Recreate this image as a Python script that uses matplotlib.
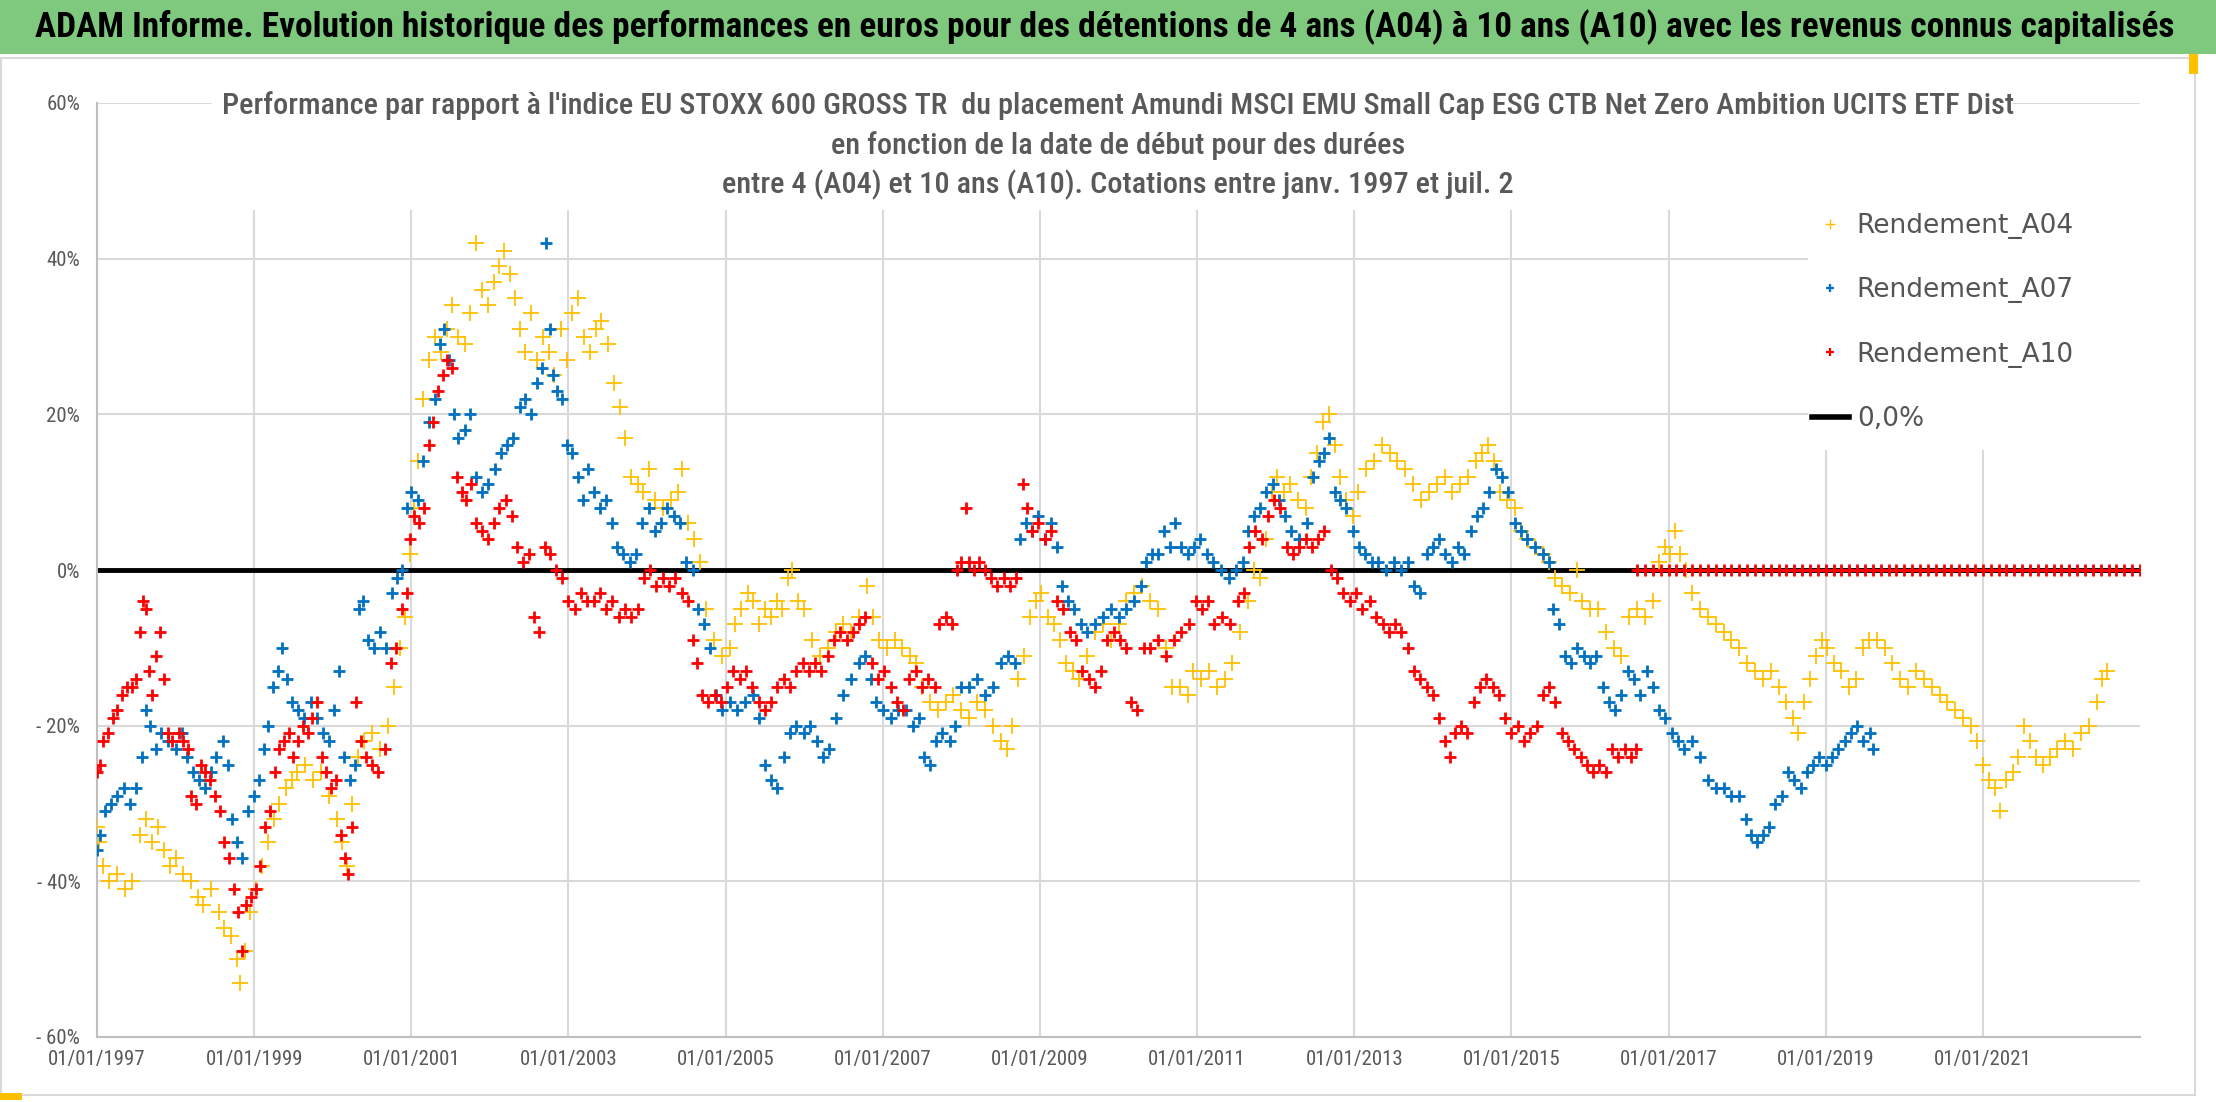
import matplotlib
matplotlib.use("Agg")
import matplotlib.pyplot as plt
from matplotlib import font_manager
from matplotlib.lines import Line2D
from matplotlib.patches import Rectangle
from matplotlib.ticker import FixedLocator, FuncFormatter

# (start year, relative performance in %)
RENDEMENT_A04 = [
    (1997.00, -33), (1997.03, -35), (1997.08, -38), (1997.15, -40), (1997.25, -39), (1997.35, -41),
    (1997.45, -40), (1997.55, -34), (1997.62, -32), (1997.70, -35), (1997.78, -33), (1997.85, -36),
    (1997.93, -38), (1998.00, -37), (1998.10, -39), (1998.20, -40), (1998.28, -42), (1998.35, -43),
    (1998.45, -41), (1998.55, -44), (1998.62, -46), (1998.70, -47), (1998.78, -50), (1998.82, -53),
    (1998.88, -49), (1998.95, -44), (1999.02, -41), (1999.10, -38), (1999.18, -35), (1999.25, -32),
    (1999.32, -30), (1999.40, -28), (1999.48, -27), (1999.55, -26), (1999.65, -25), (1999.75, -27),
    (1999.85, -26), (1999.95, -29), (2000.05, -32), (2000.12, -35), (2000.18, -38), (2000.25, -30),
    (2000.32, -24), (2000.40, -22), (2000.50, -21), (2000.60, -23), (2000.70, -20), (2000.78, -15),
    (2000.85, -10), (2000.92, -6), (2000.98, 2), (2001.03, 8), (2001.08, 14), (2001.15, 22),
    (2001.22, 27), (2001.30, 30), (2001.38, 28), (2001.45, 31), (2001.52, 34), (2001.60, 30),
    (2001.68, 29), (2001.75, 33), (2001.82, 42), (2001.90, 36), (2001.98, 34), (2002.05, 37),
    (2002.12, 39), (2002.18, 41), (2002.25, 38), (2002.32, 35), (2002.38, 31), (2002.45, 28),
    (2002.52, 33), (2002.60, 27), (2002.68, 30), (2002.75, 28), (2002.82, 25), (2002.90, 31),
    (2002.98, 27), (2003.05, 33), (2003.12, 35), (2003.20, 30), (2003.28, 28), (2003.35, 31),
    (2003.42, 32), (2003.50, 29), (2003.58, 24), (2003.65, 21), (2003.72, 17), (2003.80, 12),
    (2003.88, 11), (2003.95, 10), (2004.02, 13), (2004.10, 9), (2004.20, 8), (2004.30, 9),
    (2004.40, 10), (2004.45, 13), (2004.52, 6), (2004.60, 4), (2004.68, 1), (2004.75, -5),
    (2004.85, -9), (2004.95, -11), (2005.05, -10), (2005.12, -7), (2005.20, -5), (2005.28, -3),
    (2005.35, -4), (2005.42, -7), (2005.50, -5), (2005.58, -6), (2005.65, -4), (2005.72, -5),
    (2005.80, -1), (2005.85, 0), (2005.92, -4), (2006.00, -5), (2006.10, -9), (2006.20, -11),
    (2006.30, -10), (2006.40, -8), (2006.50, -7), (2006.60, -8), (2006.70, -6), (2006.80, -2),
    (2006.88, -6), (2006.95, -9), (2007.05, -10), (2007.15, -9), (2007.25, -10), (2007.35, -11),
    (2007.42, -12), (2007.50, -15), (2007.60, -17), (2007.70, -18), (2007.80, -17), (2007.90, -16),
    (2008.00, -18), (2008.10, -19), (2008.20, -17), (2008.30, -18), (2008.40, -20), (2008.50, -22),
    (2008.58, -23), (2008.65, -20), (2008.72, -14), (2008.80, -11), (2008.88, -6), (2008.95, -4),
    (2009.02, -3), (2009.10, -6), (2009.18, -7), (2009.25, -9), (2009.33, -12), (2009.42, -13),
    (2009.50, -14), (2009.60, -11), (2009.70, -8), (2009.80, -7), (2009.90, -9), (2010.00, -7),
    (2010.10, -4), (2010.20, -3), (2010.30, -2), (2010.40, -4), (2010.50, -5), (2010.60, -10),
    (2010.68, -15), (2010.78, -15), (2010.88, -16), (2010.95, -13), (2011.05, -14), (2011.15, -13),
    (2011.25, -15), (2011.35, -14), (2011.45, -12), (2011.55, -8), (2011.65, -4), (2011.72, 0),
    (2011.80, -1), (2011.88, 4), (2011.95, 10), (2012.02, 12), (2012.10, 10), (2012.18, 11),
    (2012.28, 9), (2012.38, 8), (2012.45, 12), (2012.52, 15), (2012.60, 19), (2012.68, 20),
    (2012.75, 16), (2012.82, 12), (2012.90, 9), (2012.98, 7), (2013.05, 10), (2013.15, 13),
    (2013.25, 14), (2013.35, 16), (2013.45, 15), (2013.55, 14), (2013.65, 13), (2013.75, 11),
    (2013.85, 9), (2013.95, 10), (2014.05, 11), (2014.15, 12), (2014.25, 10), (2014.35, 11),
    (2014.45, 12), (2014.55, 14), (2014.62, 15), (2014.70, 16), (2014.78, 14), (2014.85, 10),
    (2014.95, 9), (2015.05, 8), (2015.12, 5), (2015.20, 4), (2015.30, 3), (2015.40, 2),
    (2015.48, 1), (2015.55, -1), (2015.65, -2), (2015.75, -3), (2015.83, 0), (2015.90, -4),
    (2016.00, -5), (2016.10, -5), (2016.20, -8), (2016.30, -10), (2016.40, -11), (2016.50, -6),
    (2016.60, -5), (2016.70, -6), (2016.80, -4), (2016.88, 1), (2016.95, 3), (2017.02, 2),
    (2017.08, 5), (2017.15, 2), (2017.22, 0), (2017.30, -3), (2017.40, -5), (2017.50, -6),
    (2017.60, -7), (2017.70, -8), (2017.80, -9), (2017.90, -10), (2018.00, -12), (2018.10, -13),
    (2018.20, -14), (2018.30, -13), (2018.40, -15), (2018.50, -17), (2018.58, -19), (2018.65, -21),
    (2018.72, -17), (2018.80, -14), (2018.88, -11), (2018.95, -9), (2019.02, -10), (2019.10, -12),
    (2019.20, -13), (2019.30, -15), (2019.38, -14), (2019.48, -10), (2019.55, -9), (2019.65, -9),
    (2019.75, -10), (2019.85, -12), (2019.95, -14), (2020.05, -15), (2020.15, -13), (2020.25, -14),
    (2020.35, -15), (2020.45, -16), (2020.55, -17), (2020.65, -18), (2020.75, -19), (2020.85, -20),
    (2020.92, -22), (2021.00, -25), (2021.08, -27), (2021.15, -28), (2021.22, -31), (2021.30, -27),
    (2021.38, -26), (2021.45, -24), (2021.52, -20), (2021.60, -22), (2021.68, -24), (2021.76, -25),
    (2021.85, -24), (2021.95, -23), (2022.05, -22), (2022.15, -23), (2022.25, -21), (2022.35, -20),
    (2022.45, -17), (2022.52, -14), (2022.58, -13),
]

RENDEMENT_A07 = [
    (1997.00, -36), (1997.04, -34), (1997.10, -31), (1997.18, -30), (1997.26, -29), (1997.34, -28),
    (1997.42, -30), (1997.50, -28), (1997.57, -24), (1997.62, -18), (1997.68, -20), (1997.75, -23),
    (1997.82, -21), (1997.90, -22), (1998.00, -23), (1998.08, -21), (1998.15, -24), (1998.22, -26),
    (1998.30, -27), (1998.38, -28), (1998.45, -26), (1998.52, -24), (1998.60, -22), (1998.67, -25),
    (1998.72, -32), (1998.78, -35), (1998.85, -37), (1998.92, -31), (1999.00, -29), (1999.06, -27),
    (1999.12, -23), (1999.18, -20), (1999.24, -15), (1999.30, -13), (1999.36, -10), (1999.42, -14),
    (1999.48, -17), (1999.56, -18), (1999.64, -19), (1999.72, -17), (1999.80, -19), (1999.88, -21),
    (1999.95, -22), (2000.02, -18), (2000.08, -13), (2000.14, -24), (2000.22, -27), (2000.28, -25),
    (2000.33, -5), (2000.38, -4), (2000.45, -9), (2000.52, -10), (2000.60, -8), (2000.68, -10),
    (2000.75, -3), (2000.82, -1), (2000.88, 0), (2000.94, 8), (2001.00, 10), (2001.08, 9),
    (2001.15, 14), (2001.22, 19), (2001.30, 22), (2001.36, 29), (2001.42, 31), (2001.48, 27),
    (2001.54, 20), (2001.60, 17), (2001.68, 18), (2001.75, 20), (2001.82, 12), (2001.90, 10),
    (2001.98, 11), (2002.06, 13), (2002.14, 15), (2002.22, 16), (2002.30, 17), (2002.38, 21),
    (2002.45, 22), (2002.52, 20), (2002.60, 24), (2002.66, 26), (2002.72, 42), (2002.76, 31),
    (2002.80, 25), (2002.86, 23), (2002.92, 22), (2002.98, 16), (2003.05, 15), (2003.12, 12),
    (2003.18, 9), (2003.25, 13), (2003.32, 10), (2003.40, 8), (2003.48, 9), (2003.55, 6),
    (2003.62, 3), (2003.70, 2), (2003.78, 1), (2003.86, 2), (2003.94, 6), (2004.02, 8),
    (2004.10, 5), (2004.18, 6), (2004.26, 8), (2004.34, 7), (2004.42, 6), (2004.50, 1),
    (2004.58, 0), (2004.65, -5), (2004.72, -7), (2004.80, -10), (2004.88, -16), (2004.95, -18),
    (2005.05, -17), (2005.15, -18), (2005.25, -17), (2005.35, -16), (2005.42, -19), (2005.50, -25),
    (2005.58, -27), (2005.66, -28), (2005.74, -24), (2005.82, -21), (2005.90, -20), (2006.00, -21),
    (2006.08, -20), (2006.16, -22), (2006.24, -24), (2006.32, -23), (2006.40, -19), (2006.50, -16),
    (2006.60, -14), (2006.70, -12), (2006.78, -11), (2006.85, -14), (2006.92, -17), (2007.00, -18),
    (2007.10, -19), (2007.20, -18), (2007.30, -18), (2007.38, -20), (2007.46, -19), (2007.52, -24),
    (2007.60, -25), (2007.68, -22), (2007.76, -21), (2007.85, -22), (2007.92, -20), (2008.00, -15),
    (2008.10, -15), (2008.20, -14), (2008.30, -16), (2008.40, -15), (2008.50, -12), (2008.60, -11),
    (2008.68, -12), (2008.75, 4), (2008.82, 6), (2008.90, 5), (2008.98, 7), (2009.06, 4),
    (2009.14, 6), (2009.22, 3), (2009.28, -2), (2009.36, -4), (2009.44, -5), (2009.52, -7),
    (2009.60, -8), (2009.70, -7), (2009.80, -6), (2009.90, -5), (2010.00, -6), (2010.10, -5),
    (2010.20, -4), (2010.28, -2), (2010.35, 1), (2010.42, 2), (2010.50, 2), (2010.58, 5),
    (2010.65, 3), (2010.72, 6), (2010.80, 3), (2010.88, 2), (2010.96, 3), (2011.04, 4),
    (2011.12, 2), (2011.20, 1), (2011.30, 0), (2011.40, -1), (2011.50, 0), (2011.58, 1),
    (2011.65, 5), (2011.72, 7), (2011.80, 8), (2011.88, 10), (2011.96, 11), (2012.04, 9),
    (2012.12, 7), (2012.20, 5), (2012.30, 4), (2012.40, 6), (2012.48, 12), (2012.55, 14),
    (2012.62, 15), (2012.68, 17), (2012.75, 10), (2012.82, 9), (2012.90, 8), (2012.98, 5),
    (2013.06, 3), (2013.14, 2), (2013.22, 1), (2013.30, 1), (2013.40, 0), (2013.50, 1),
    (2013.60, 0), (2013.68, 1), (2013.76, -2), (2013.84, -3), (2013.92, 2), (2014.00, 3),
    (2014.08, 4), (2014.16, 2), (2014.24, 1), (2014.32, 3), (2014.40, 2), (2014.48, 5),
    (2014.56, 7), (2014.64, 8), (2014.72, 10), (2014.80, 13), (2014.88, 12), (2014.96, 10),
    (2015.04, 6), (2015.12, 5), (2015.20, 4), (2015.30, 3), (2015.40, 2), (2015.48, 1),
    (2015.53, -5), (2015.60, -7), (2015.68, -11), (2015.76, -12), (2015.84, -10), (2015.92, -11),
    (2016.00, -12), (2016.08, -11), (2016.16, -15), (2016.24, -17), (2016.32, -18), (2016.40, -16),
    (2016.48, -13), (2016.56, -14), (2016.64, -16), (2016.72, -13), (2016.80, -15), (2016.88, -18),
    (2016.96, -19), (2017.04, -21), (2017.12, -22), (2017.20, -23), (2017.30, -22), (2017.40, -24),
    (2017.50, -27), (2017.60, -28), (2017.70, -28), (2017.80, -29), (2017.90, -29), (2017.98, -32),
    (2018.05, -34), (2018.12, -35), (2018.20, -34), (2018.28, -33), (2018.36, -30), (2018.44, -29),
    (2018.52, -26), (2018.60, -27), (2018.68, -28), (2018.76, -26), (2018.84, -25), (2018.92, -24),
    (2019.00, -25), (2019.08, -24), (2019.16, -23), (2019.24, -22), (2019.32, -21), (2019.40, -20),
    (2019.48, -22), (2019.56, -21), (2019.60, -23),
]

RENDEMENT_A10 = [
    (1997.00, -26), (1997.04, -25), (1997.08, -22), (1997.14, -21), (1997.20, -19), (1997.26, -18),
    (1997.32, -16), (1997.38, -15), (1997.44, -15), (1997.50, -14), (1997.55, -8), (1997.58, -4),
    (1997.62, -5), (1997.66, -13), (1997.70, -16), (1997.75, -11), (1997.80, -8), (1997.85, -14),
    (1997.90, -21), (1997.96, -22), (1998.04, -21), (1998.10, -22), (1998.16, -23), (1998.20, -29),
    (1998.26, -30), (1998.32, -25), (1998.38, -26), (1998.44, -27), (1998.50, -29), (1998.56, -31),
    (1998.62, -35), (1998.68, -37), (1998.74, -41), (1998.80, -44), (1998.84, -49), (1998.90, -43),
    (1998.96, -42), (1999.02, -41), (1999.08, -38), (1999.14, -33), (1999.20, -31), (1999.26, -26),
    (1999.32, -23), (1999.38, -22), (1999.44, -21), (1999.50, -24), (1999.56, -22), (1999.62, -20),
    (1999.68, -21), (1999.74, -19), (1999.80, -17), (1999.86, -24), (1999.92, -26), (1999.98, -28),
    (2000.04, -27), (2000.10, -34), (2000.16, -37), (2000.20, -39), (2000.25, -33), (2000.30, -17),
    (2000.36, -22), (2000.42, -24), (2000.50, -25), (2000.58, -26), (2000.66, -23), (2000.74, -12),
    (2000.80, -10), (2000.88, -5), (2000.94, -3), (2000.98, 4), (2001.04, 7), (2001.10, 6),
    (2001.16, 8), (2001.22, 16), (2001.28, 19), (2001.34, 23), (2001.40, 25), (2001.46, 27),
    (2001.52, 26), (2001.58, 12), (2001.64, 10), (2001.70, 9), (2001.76, 11), (2001.82, 6),
    (2001.90, 5), (2001.98, 4), (2002.05, 6), (2002.12, 8), (2002.20, 9), (2002.28, 7),
    (2002.35, 3), (2002.42, 1), (2002.50, 2), (2002.56, -6), (2002.62, -8), (2002.70, 3),
    (2002.76, 2), (2002.84, 0), (2002.92, -1), (2003.00, -4), (2003.08, -5), (2003.16, -3),
    (2003.24, -4), (2003.32, -4), (2003.40, -3), (2003.48, -5), (2003.56, -4), (2003.64, -6),
    (2003.72, -5), (2003.80, -6), (2003.88, -5), (2003.96, -1), (2004.04, 0), (2004.12, -2),
    (2004.20, -1), (2004.28, -2), (2004.36, -1), (2004.44, -3), (2004.52, -4), (2004.58, -9),
    (2004.64, -12), (2004.70, -16), (2004.78, -17), (2004.86, -16), (2004.94, -17), (2005.02, -15),
    (2005.10, -13), (2005.18, -14), (2005.26, -13), (2005.34, -15), (2005.42, -17), (2005.50, -18),
    (2005.58, -17), (2005.66, -15), (2005.74, -14), (2005.82, -15), (2005.90, -13), (2005.98, -12),
    (2006.06, -13), (2006.14, -12), (2006.22, -13), (2006.30, -11), (2006.38, -9), (2006.46, -8),
    (2006.54, -9), (2006.62, -8), (2006.70, -7), (2006.78, -6), (2006.86, -12), (2006.94, -14),
    (2007.02, -13), (2007.10, -15), (2007.18, -17), (2007.26, -18), (2007.34, -14), (2007.42, -13),
    (2007.50, -15), (2007.58, -14), (2007.66, -15), (2007.72, -7), (2007.80, -6), (2007.88, -7),
    (2007.94, 0), (2008.00, 1), (2008.06, 8), (2008.10, 1), (2008.16, 0), (2008.22, 1),
    (2008.30, 0), (2008.38, -1), (2008.46, -2), (2008.54, -1), (2008.62, -2), (2008.70, -1),
    (2008.78, 11), (2008.84, 8), (2008.90, 5), (2008.98, 6), (2009.06, 4), (2009.14, 5),
    (2009.22, -4), (2009.30, -5), (2009.38, -8), (2009.46, -9), (2009.54, -13), (2009.62, -14),
    (2009.70, -15), (2009.78, -13), (2009.86, -9), (2009.94, -8), (2010.02, -9), (2010.10, -10),
    (2010.16, -17), (2010.24, -18), (2010.32, -10), (2010.40, -10), (2010.50, -9), (2010.60, -11),
    (2010.70, -9), (2010.80, -8), (2010.90, -7), (2010.98, -4), (2011.06, -5), (2011.14, -4),
    (2011.22, -7), (2011.32, -6), (2011.42, -7), (2011.52, -4), (2011.60, -3), (2011.66, 3),
    (2011.74, 5), (2011.82, 4), (2011.90, 7), (2011.98, 9), (2012.06, 8), (2012.14, 3),
    (2012.22, 2), (2012.30, 3), (2012.38, 4), (2012.46, 3), (2012.54, 4), (2012.62, 5),
    (2012.70, 0), (2012.78, -1), (2012.86, -3), (2012.94, -4), (2013.02, -3), (2013.10, -5),
    (2013.20, -4), (2013.28, -6), (2013.36, -7), (2013.44, -8), (2013.52, -7), (2013.60, -8),
    (2013.68, -10), (2013.76, -13), (2013.84, -14), (2013.92, -15), (2014.00, -16), (2014.08, -19),
    (2014.16, -22), (2014.22, -24), (2014.28, -21), (2014.36, -20), (2014.44, -21), (2014.52, -17),
    (2014.60, -15), (2014.68, -14), (2014.76, -15), (2014.84, -16), (2014.92, -19), (2015.00, -21),
    (2015.08, -20), (2015.16, -22), (2015.24, -21), (2015.32, -20), (2015.40, -16), (2015.48, -15),
    (2015.56, -17), (2015.64, -21), (2015.72, -22), (2015.80, -23), (2015.88, -24), (2015.96, -25),
    (2016.04, -26), (2016.12, -25), (2016.20, -26), (2016.28, -23), (2016.36, -24), (2016.44, -23),
    (2016.52, -24), (2016.58, -23),
]

# A10 has no value after mid-2016: the sheet shows these start dates at 0 %
A10_ZERO_YEARS = [
    2016.6, 2016.7, 2016.8, 2016.9, 2017.0, 2017.1, 2017.2, 2017.3, 2017.4, 2017.5, 2017.6,
    2017.7, 2017.8, 2017.9, 2018.0, 2018.1, 2018.2, 2018.3, 2018.4, 2018.5, 2018.6, 2018.7,
    2018.8, 2018.9, 2019.0, 2019.1, 2019.2, 2019.3, 2019.4, 2019.5, 2019.6, 2019.7, 2019.8,
    2019.9, 2020.0, 2020.1, 2020.2, 2020.3, 2020.4, 2020.5, 2020.6, 2020.7, 2020.8, 2020.9,
    2021.0, 2021.1, 2021.2, 2021.3, 2021.4, 2021.5, 2021.6, 2021.7, 2021.8, 2021.9, 2022.0,
    2022.1, 2022.2, 2022.3, 2022.4, 2022.5, 2022.6, 2022.7, 2022.8, 2022.9, 2023.0,
]

ZERO_LINE_YEARS = [1997.0, 2023.0]
ZERO_LINE_PCT = [0.0, 0.0]

TICK_YEARS = [1997, 1999, 2001, 2003, 2005, 2007, 2009, 2011, 2013, 2015, 2017, 2019, 2021]
TICK_PCT = [-60, -40, -20, 0, 20, 40, 60]

SERIES_NAMES = ["Rendement_A04", "Rendement_A07", "Rendement_A10", "0,0%"]

MAIN_TITLE = ("ADAM Informe. Evolution historique des performances en euros pour des détentions "
              "de 4 ans (A04) à 10 ans (A10) avec les revenus connus capitalisés")
CHART_TITLE = [
    "Performance par rapport à l'indice EU STOXX 600 GROSS TR  du placement Amundi MSCI EMU "
    "Small Cap ESG CTB Net Zero Ambition UCITS ETF Dist",
    "en fonction de la date de début pour des durées",
    "entre 4 (A04) et 10 ans (A10). Cotations entre janv. 1997 et juil. 2",
]

YELLOW = "#FFC000"
BLUE = "#0070C0"
RED = "#FF0000"
GREY_TXT = "#595959"
GRID = "#D9D9D9"
BAND = "#7FC97F"

W, H = 2216, 1102


def pick_font(*names):
    installed = {f.name for f in font_manager.fontManager.ttflist}
    for n in names:
        if n in installed:
            return n
    return "DejaVu Sans"


NARROW = pick_font("Liberation Sans Narrow", "Roboto Condensed", "DejaVu Sans")
WIDE = pick_font("DejaVu Sans")


def fx(px):
    return px / W


def fy(px):
    return 1 - px / H


def pct_label(v, _pos):
    if abs(v) < 1e-9:
        return "0%"
    if v < 0:
        return f"- {abs(v):.0f}%"
    return f"{v:.0f}%"


fig = plt.figure(figsize=(W / 100, H / 100), dpi=100)
fig.patch.set_facecolor("white")

# green banner and chart frame
fig.patches.append(Rectangle((0, fy(54)), 1, 54 / H, transform=fig.transFigure,
                             facecolor=BAND, edgecolor="none", zorder=0))
fig.patches.append(Rectangle((fx(1), fy(1095)), fx(2194), (1095 - 58) / H,
                             transform=fig.transFigure, facecolor="none",
                             edgecolor=GRID, lw=1.5, zorder=0))
fig.text(0.4985, fy(27), MAIN_TITLE, ha="center", va="center", fontsize=25.5,
         fontweight="bold", family=NARROW, color="black")

ax = fig.add_axes([fx(97), fy(1037), fx(2140 - 97), (1037 - 103) / H])
ax.set_xlim(1997, 2023)
ax.set_ylim(-60, 60)
ax.xaxis.set_major_locator(FixedLocator(TICK_YEARS))
ax.yaxis.set_major_locator(FixedLocator(TICK_PCT))
ax.xaxis.set_major_formatter(FuncFormatter(lambda v, _p: f"01/01/{int(round(v))}"))
ax.yaxis.set_major_formatter(FuncFormatter(pct_label))
ax.grid(True, color=GRID, lw=1.5)
ax.set_axisbelow(True)
for side in ["top", "right"]:
    ax.spines[side].set_visible(False)
for side in ["left", "bottom"]:
    ax.spines[side].set_color("#BFBFBF")
    ax.spines[side].set_linewidth(1.5)
ax.tick_params(length=0, colors=GREY_TXT)
ax.tick_params(axis="x", labelsize=15, pad=9)
ax.tick_params(axis="y", labelsize=15, pad=12)
for lab in ax.get_xticklabels() + ax.get_yticklabels():
    lab.set_family(NARROW)

ax.plot(ZERO_LINE_YEARS, ZERO_LINE_PCT, color="black", lw=3.5, zorder=2,
        solid_capstyle="round")

a04_x, a04_y = zip(*RENDEMENT_A04)
a07_x, a07_y = zip(*RENDEMENT_A07)
a10_x, a10_y = zip(*RENDEMENT_A10)
ax.plot(a04_x, a04_y, ls="none", marker="+", ms=11, mew=1.3, color=YELLOW, zorder=3)
ax.plot(a07_x, a07_y, ls="none", marker="+", ms=9, mew=2.0, color=BLUE, zorder=4)
ax.plot(a10_x, a10_y, ls="none", marker="+", ms=9, mew=2.0, color=RED, zorder=5)
ax.plot(A10_ZERO_YEARS, [0] * len(A10_ZERO_YEARS), ls="none", marker="+", ms=9,
        mew=2.0, color=RED, zorder=5)

# chart title on white block over the grid
fig.patches.append(Rectangle((fx(212), fy(210)), fx(2012 - 212), (210 - 86) / H,
                             transform=fig.transFigure, facecolor="white",
                             edgecolor="none", zorder=1))
for i, line in enumerate(CHART_TITLE):
    fig.text(fx(1118), fy(106 + 39.5 * i), line, ha="center", va="center",
             fontsize=21.8, fontweight="medium", family=NARROW, color=GREY_TXT)

# legend block
fig.patches.append(Rectangle((fx(1808), fy(450)), fx(2140 - 1808), (450 - 190) / H,
                             transform=fig.transFigure, facecolor="white",
                             edgecolor="none", zorder=1))
handles = [
    Line2D([], [], ls="none", marker="+", ms=7, mew=1.0, color=YELLOW),
    Line2D([], [], ls="none", marker="+", ms=6, mew=1.6, color=BLUE),
    Line2D([], [], ls="none", marker="+", ms=6, mew=1.6, color=RED),
    Line2D([], [], color="black", lw=4),
]
leg = fig.legend(handles, SERIES_NAMES, loc="upper left",
                 bbox_to_anchor=(fx(1812), fy(213)), frameon=False,
                 prop={"family": WIDE, "size": 19}, labelcolor="#555555",
                 handlelength=1.4, handletextpad=0.3, labelspacing=1.45,
                 borderaxespad=0, borderpad=0)
leg.set_zorder(6)

# selection handles left by the spreadsheet
fig.patches.append(Rectangle((fx(2189), fy(74)), fx(9), 20 / H, transform=fig.transFigure,
                             facecolor=YELLOW, edgecolor="none", zorder=2))
fig.patches.append(Rectangle((0, fy(1100)), fx(22), 7 / H, transform=fig.transFigure,
                             facecolor=YELLOW, edgecolor="none", zorder=2))

fig.savefig("out.png", dpi=100)
plt.close(fig)
